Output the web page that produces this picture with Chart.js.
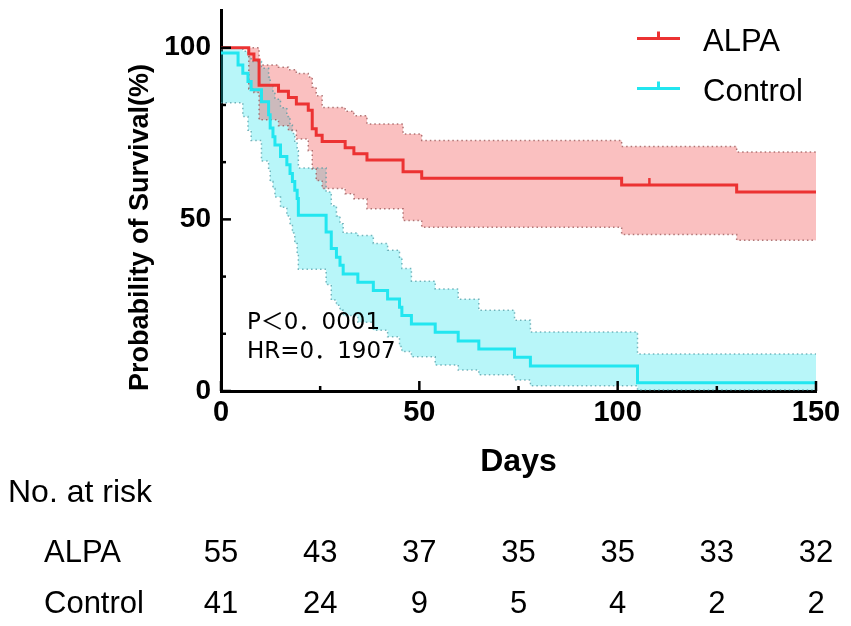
<!DOCTYPE html>
<html>
<head>
<meta charset="utf-8">
<script src="https://cdn.jsdelivr.net/npm/chart.js@4.4.0/dist/chart.umd.min.js"></script>
<style>
html,body{margin:0;padding:0;background:#fff;}
canvas{display:block;}
</style>
</head>
<body>
<canvas id="chart" width="851" height="626"></canvas>
<script>

// ALPA group (n=55): Kaplan-Meier steps
const alpaDays  = [0, 7, 8.3, 9.6, 14.5, 17, 19, 22, 23, 24, 25.5, 31.3, 33.5, 36.8, 45.9, 50.6, 101, 130, 150];
const alpaSurv  = [100, 98.2, 96.4, 89.1, 87.3, 85.5, 83.6, 81.8, 76.4, 74.5, 72.7, 70.9, 69.1, 67.3, 63.9, 62.0, 60.0, 58.0, 58.0];
const alpaUpper = [100, 100, 100, 95, 94.3, 93.6, 92.5, 91.5, 88.5, 86, 82.6, 81.5, 80.2, 77.8, 74.9, 73, 71.2, 69.6, 69.6];
const alpaLower = [100, 88, 87, 79, 77.3, 75.9, 73.4, 70, 64.7, 61.3, 59, 57.5, 56, 53.1, 49.7, 47.7, 45.6, 43.9, 43.9];
const alpaCensorDays = [108];
const alpaCensorSurv = [60.0];

// Control group (n=41)
const ctrlDays  = [0, 4.3, 5.5, 6.8, 7.6, 10.2, 12.0, 12.4, 13.1, 13.6, 15.0, 16.6, 17.4, 18.0, 18.6, 19.2, 19.5,
                   26.5, 27.8, 29.1, 30, 30.8, 34.5, 38.4, 42, 45, 45.6, 48, 54, 59.8, 65, 74, 78, 105, 150];
const ctrlSurv  = [98.5, 95, 92.6, 90.2, 87.8, 84.3, 80.5, 76.6, 74.1, 71.7, 68.3, 65.9, 63.4, 61.0, 58.5, 56.1, 51.2,
                   46.3, 41.5, 39.0, 36.6, 34.1, 31.7, 29.3, 26.8, 24.4, 22.0, 19.5, 17.1, 14.6, 12.2, 9.8, 7.3, 2.4, 2.4];
const ctrlUpper = [100, 100, 99, 97.5, 96, 94, 91.5, 89, 87, 85, 82.5, 80, 77.5, 75, 72.5, 70, 65,
                   58, 54, 51, 48.7, 46, 45.3, 43, 41, 39, 35.7, 32, 29.7, 26.7, 23.5, 20.6, 17.2, 10.8, 10.8];
const ctrlLower = [84, 84, 80, 76, 73, 67, 64.5, 61, 59, 56.5, 53.5, 51, 48.5, 46, 43, 40, 35.5,
                   31, 26.5, 25, 23.5, 22, 20, 17.7, 15.8, 13, 11.5, 10, 7.6, 6.1, 4.7, 3.2, 1.5, 0.3, 0.3];

const seriesNames = ["ALPA", "Control"];

// axis ticks
const xLabelTicks = [0, 50, 100, 150];
const xMinorTicks = [25, 75, 125];
const yLabelTicks = [0, 50, 100];
const yMinorTicks = [16.67, 33.33, 66.67, 83.33];

// number at risk table
const riskDays = [0, 25, 50, 75, 100, 125, 150];
const alpaRisk = [55, 43, 37, 35, 35, 33, 32];
const ctrlRisk = [41, 24, 9, 5, 4, 2, 2];

const statLines = ["P＜0．0001", "HR=0．1907"];

const RED = "#ec3232";
const CYAN = "#22e6f0";
const FONT = "'Liberation Sans', Arial, sans-serif";

function pts(xs, ys){
  return xs.map((x,i)=>({x:x, y:ys[i]}));
}

Chart.defaults.font.family = FONT;
Chart.defaults.color = "#000";

// tick marks pointing inside the plot
const innerTicks = {
  id:"innerTicks",
  afterDraw(chart){
    const ctx = chart.ctx;
    const xs = chart.scales.x, ys = chart.scales.y;
    const area = chart.chartArea;
    ctx.save();
    ctx.strokeStyle = "#000";
    ctx.lineWidth = 2.5;
    const xt = (v,len)=>{
      const px = xs.getPixelForValue(v);
      ctx.beginPath(); ctx.moveTo(px, area.bottom); ctx.lineTo(px, area.bottom-len); ctx.stroke();
    };
    const yt = (v,len)=>{
      const py = ys.getPixelForValue(v);
      ctx.beginPath(); ctx.moveTo(area.left, py); ctx.lineTo(area.left+len, py); ctx.stroke();
    };
    xLabelTicks.forEach(v=>xt(v,10));
    xMinorTicks.forEach(v=>xt(v,5));
    yLabelTicks.forEach(v=>yt(v,10));
    yMinorTicks.forEach(v=>yt(v,5));
    ctx.restore();
  }
};

// legend in the top right corner, line with censor tick
const cornerLegend = {
  id:"cornerLegend",
  afterDraw(chart){
    const ctx = chart.ctx;
    const cols = [RED, CYAN];
    ctx.save();
    seriesNames.forEach((name,i)=>{
      const y = 38.5 + i*50;
      ctx.strokeStyle = cols[i];
      ctx.lineWidth = 3;
      ctx.beginPath(); ctx.moveTo(637, y); ctx.lineTo(680, y); ctx.stroke();
      ctx.beginPath(); ctx.moveTo(658.5, y); ctx.lineTo(658.5, y-7); ctx.stroke();
      ctx.fillStyle = "#000";
      ctx.font = "31px " + FONT;
      ctx.textBaseline = "alphabetic";
      ctx.textAlign = "left";
      ctx.fillText(name, 703, y + 12);
    });
    ctx.restore();
  }
};

// P value and hazard ratio
const statText = {
  id:"statText",
  afterDraw(chart){
    const ctx = chart.ctx;
    const area = chart.chartArea;
    ctx.save();
    ctx.fillStyle = "#000";
    ctx.font = "23px 'DejaVu Sans', 'Noto Sans CJK SC', sans-serif";
    ctx.textAlign = "left";
    ctx.textBaseline = "alphabetic";
    statLines.forEach((t,i)=>{
      ctx.fillText(t, area.left + 26, 329 + i*29);
    });
    ctx.restore();
  }
};

// number at risk under the axis
const riskTable = {
  id:"riskTable",
  afterDraw(chart){
    const ctx = chart.ctx;
    const xs = chart.scales.x;
    ctx.save();
    ctx.fillStyle = "#000";
    ctx.textBaseline = "alphabetic";
    ctx.font = "32px " + FONT;
    ctx.textAlign = "left";
    ctx.fillText("No. at risk", 8, 502);
    ctx.font = "31px " + FONT;
    const rows = [[seriesNames[0], alpaRisk, 562], [seriesNames[1], ctrlRisk, 613]];
    rows.forEach(r=>{
      ctx.textAlign = "left";
      ctx.fillText(r[0], 44, r[2]);
      ctx.textAlign = "center";
      r[1].forEach((n,i)=>{
        ctx.fillText(String(n), xs.getPixelForValue(riskDays[i]), r[2]);
      });
    });
    ctx.restore();
  }
};

const dotted = [1.5, 3];

new Chart(document.getElementById("chart"), {
  type:"line",
  data:{
    datasets:[
      {label:seriesNames[0], data:pts(alpaDays, alpaSurv), stepped:true, borderColor:RED, borderWidth:3, pointRadius:0, fill:false, order:0},
      {label:seriesNames[1], data:pts(ctrlDays, ctrlSurv), stepped:true, borderColor:CYAN, borderWidth:3, pointRadius:0, fill:false, order:1},
      {label:"ALPA upper", data:pts(alpaDays, alpaUpper), stepped:true, borderColor:"rgba(150,80,80,0.75)", borderWidth:1.5, borderDash:dotted,
        pointRadius:0, fill:"+1", backgroundColor:"rgba(242,80,80,0.36)", order:3},
      {label:"ALPA lower", data:pts(alpaDays, alpaLower), stepped:true, borderColor:"rgba(150,80,80,0.75)", borderWidth:1.5, borderDash:dotted,
        pointRadius:0, fill:false, order:3},
      {label:"Control upper", data:pts(ctrlDays, ctrlUpper), stepped:true, borderColor:"rgba(70,150,160,0.7)", borderWidth:1.5, borderDash:dotted,
        pointRadius:0, fill:"+1", backgroundColor:"rgba(20,225,235,0.3)", order:4},
      {label:"Control lower", data:pts(ctrlDays, ctrlLower), stepped:true, borderColor:"rgba(70,150,160,0.7)", borderWidth:1.5, borderDash:dotted,
        pointRadius:0, fill:false, order:4},
      {label:"ALPA censored", data:pts(alpaCensorDays, alpaCensorSurv), showLine:false, pointStyle:"dash", rotation:-90,
        pointRadius:7, borderColor:RED, borderWidth:2.5, order:-1}
    ]
  },
  options:{
    responsive:false,
    animation:false,
    events:[],
    layout:{padding:{left:120, right:35, top:10, bottom:141}},
    plugins:{
      legend:{display:false},
      tooltip:{enabled:false},
      filler:{drawTime:"beforeDatasetsDraw"}
    },
    scales:{
      x:{
        type:"linear", min:0, max:150,
        afterBuildTicks:s=>{ s.ticks = xLabelTicks.map(v=>({value:v})); },
        afterFit:s=>{ s.height = 94; s.paddingLeft = 0; s.paddingRight = 0; },
        ticks:{font:{size:29, weight:"bold"}, color:"#000", padding:5, maxRotation:0, autoSkip:false},
        grid:{display:false, drawTicks:false},
        border:{display:true, color:"#000", width:3},
        title:{display:true, text:"Days", color:"#000", font:{size:32, weight:"bold"}, padding:{top:0, bottom:4}}
      },
      y:{
        type:"linear", min:0, max:111,
        afterBuildTicks:s=>{ s.ticks = yLabelTicks.map(v=>({value:v})); },
        afterFit:s=>{ s.width = 101; s.paddingTop = 0; s.paddingBottom = 0; },
        ticks:{font:{size:28, weight:"bold"}, color:"#000", padding:10},
        grid:{display:false, drawTicks:false},
        border:{display:true, color:"#000", width:3},
        title:{display:true, text:"Probability of Survival(%)", align:"start", color:"#000", font:{size:27, weight:"bold"}, padding:{top:4, bottom:0}}
      }
    }
  },
  plugins:[innerTicks, cornerLegend, statText, riskTable]
});

</script>
</body>
</html>
